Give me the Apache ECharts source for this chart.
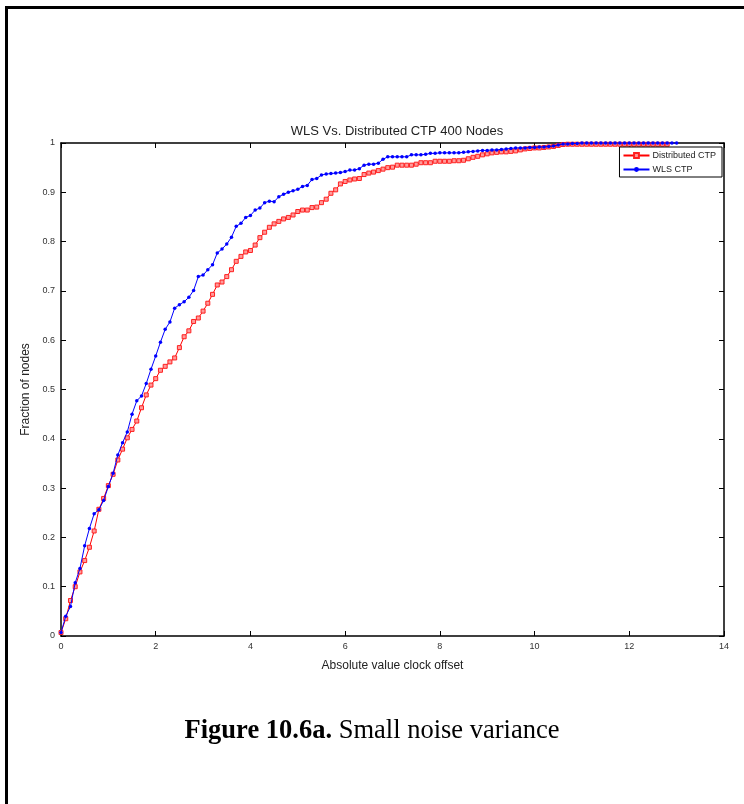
<!DOCTYPE html>
<html>
<head>
<meta charset="utf-8">
<script src="https://cdn.jsdelivr.net/npm/echarts@6/dist/echarts.min.js"></script>
<style>
html,body{margin:0;padding:0;background:#fff;}
#chart{width:744px;height:804px;}
</style>
</head>
<body>
<div id="chart"></div>
<script>
// Clock offset bins (shared x values)
const offsets = [
0.0,0.1,0.2,0.3,0.4,0.5,0.6,0.7,0.8,0.9,
1.0,1.1,1.2,1.3,1.4,1.5,1.6,1.7,1.8,1.9,
2.0,2.1,2.2,2.3,2.4,2.5,2.6,2.7,2.8,2.9,
3.0,3.1,3.2,3.3,3.4,3.5,3.6,3.7,3.8,3.9,
4.0,4.1,4.2,4.3,4.4,4.5,4.6,4.7,4.8,4.9,
5.0,5.1,5.2,5.3,5.4,5.5,5.6,5.7,5.8,5.9,
6.0,6.1,6.2,6.3,6.4,6.5,6.6,6.7,6.8,6.9,
7.0,7.1,7.2,7.3,7.4,7.5,7.6,7.7,7.8,7.9,
8.0,8.1,8.2,8.3,8.4,8.5,8.6,8.7,8.8,8.9,
9.0,9.1,9.2,9.3,9.4,9.5,9.6,9.7,9.8,9.9,
10.0,10.1,10.2,10.3,10.4,10.5,10.6,10.7,10.8,10.9,
11.0,11.1,11.2,11.3,11.4,11.5,11.6,11.7,11.8,11.9,
12.0,12.1,12.2,12.3,12.4,12.5,12.6,12.7,12.8,12.9,
13.0
];

// Distributed CTP (red), x = 0 .. 12.8
const distributedCTP = [
0.007,0.035,0.072,0.100,0.130,0.153,0.180,0.213,0.257,0.279,
0.305,0.328,0.357,0.379,0.402,0.419,0.436,0.463,0.489,0.509,
0.522,0.539,0.547,0.556,0.564,0.585,0.607,0.619,0.638,0.645,
0.659,0.675,0.693,0.712,0.718,0.729,0.743,0.760,0.770,0.779,
0.782,0.793,0.808,0.819,0.829,0.836,0.841,0.846,0.849,0.854,
0.861,0.864,0.864,0.869,0.870,0.879,0.886,0.898,0.905,0.917,
0.922,0.925,0.927,0.928,0.936,0.939,0.941,0.944,0.947,0.950,
0.951,0.955,0.955,0.955,0.955,0.957,0.960,0.960,0.960,0.963,
0.963,0.963,0.963,0.964,0.964,0.965,0.968,0.971,0.973,0.976,
0.978,0.980,0.981,0.982,0.982,0.983,0.984,0.986,0.988,0.989,
0.990,0.990,0.991,0.992,0.993,0.995,0.997,0.9975,0.9975,0.9975,
0.9975,0.9975,0.9975,0.9975,0.9975,0.9975,0.9975,0.9975,0.9975,0.9975,
0.9975,0.9975,0.9975,0.9975,0.9975,0.9975,0.9975,0.9975,0.9975
];

// WLS CTP (blue), x = 0 .. 13.0
const wlsCTP = [
0.007,0.040,0.060,0.108,0.137,0.183,0.218,0.248,0.256,0.275,
0.303,0.330,0.367,0.392,0.414,0.450,0.477,0.487,0.512,0.541,
0.568,0.596,0.622,0.637,0.665,0.672,0.678,0.687,0.701,0.729,
0.732,0.743,0.753,0.777,0.785,0.795,0.809,0.831,0.837,0.849,
0.853,0.864,0.868,0.879,0.882,0.881,0.891,0.896,0.900,0.903,
0.906,0.912,0.914,0.926,0.928,0.935,0.937,0.938,0.939,0.940,
0.942,0.945,0.945,0.948,0.955,0.957,0.957,0.959,0.967,0.972,
0.972,0.972,0.972,0.972,0.976,0.976,0.976,0.977,0.979,0.979,
0.980,0.980,0.980,0.980,0.980,0.981,0.982,0.983,0.984,0.985,
0.985,0.986,0.986,0.987,0.988,0.989,0.990,0.990,0.990,0.991,
0.991,0.992,0.992,0.993,0.994,0.996,0.998,0.998,0.999,0.999,
1.000,1.000,1.000,1.000,1.000,1.000,1.000,1.000,1.000,1.000,
1.000,1.000,1.000,1.000,1.000,1.000,1.000,1.000,1.000,1.000,
1.000
];

const seriesNames = ['Distributed CTP', 'WLS CTP'];
const chartTitle = 'WLS Vs. Distributed CTP 400 Nodes';
const xName = 'Absolute value clock offset';
const yName = 'Fraction of nodes';

function pairs(ys) { return ys.map((y, i) => [offsets[i], y]); }

const chart = echarts.init(document.getElementById('chart'), null, {renderer: 'canvas'});
const sans = 'Liberation Sans, Arial, Helvetica, sans-serif';
const serif = 'Liberation Serif, Times New Roman, serif';
const axisLineStyle = {show: true, onZero: false, lineStyle: {color: '#000', width: 1.5}};
const tickIn = {show: true, inside: true, length: 5, lineStyle: {color: '#000', width: 1}};

chart.setOption({
  backgroundColor: '#fff',
  animation: false,
  title: {
    text: chartTitle,
    left: 392, top: 120, textAlign: 'center',
    textStyle: {fontFamily: sans, fontSize: 13, fontWeight: 'normal', color: '#222'}
  },
  grid: {left: 61, right: 20, top: 143, bottom: 168, containLabel: false},
  legend: {
    data: seriesNames,
    orient: 'vertical',
    right: 22, top: 147,
    backgroundColor: '#fff',
    borderColor: '#000', borderWidth: 1, borderRadius: 0,
    padding: [4, 6, 3, 3],
    itemGap: 5, itemWidth: 26, itemHeight: 6,
    textStyle: {fontFamily: sans, fontSize: 9, color: '#222', padding: [0, 0, 0, -2]}
  },
  xAxis: [{
    type: 'value', min: 0, max: 14, interval: 2,
    name: xName, nameLocation: 'middle', nameGap: 24,
    nameTextStyle: {fontFamily: sans, fontSize: 12, color: '#222'},
    axisLine: axisLineStyle, axisTick: tickIn,
    axisLabel: {fontFamily: sans, fontSize: 9, color: '#333', margin: 6},
    splitLine: {show: false}
  }, {
    type: 'value', min: 0, max: 14, interval: 2, position: 'top',
    axisLine: axisLineStyle, axisTick: tickIn,
    axisLabel: {show: false}, splitLine: {show: false}
  }],
  yAxis: [{
    type: 'value', min: 0, max: 1, interval: 0.1,
    name: yName, nameLocation: 'middle', nameGap: 28,
    nameTextStyle: {fontFamily: sans, fontSize: 12, color: '#222'},
    axisLine: axisLineStyle, axisTick: tickIn,
    axisLabel: {fontFamily: sans, fontSize: 9, color: '#333', margin: 6,
      formatter: v => (Math.round(v * 10) / 10).toString()},
    splitLine: {show: false}
  }, {
    type: 'value', min: 0, max: 1, interval: 0.1, position: 'right',
    axisLine: axisLineStyle, axisTick: tickIn,
    axisLabel: {show: false}, splitLine: {show: false}
  }],
  series: [{
    name: seriesNames[0],
    type: 'line',
    data: pairs(distributedCTP),
    symbol: 'rect', symbolSize: 4,
    showAllSymbol: true,
    lineStyle: {color: '#ff0000', width: 1},
    itemStyle: {color: '#ff9a9a', borderColor: '#ff2020', borderWidth: 1},
    z: 2
  }, {
    name: seriesNames[1],
    type: 'line',
    data: pairs(wlsCTP),
    symbol: 'circle', symbolSize: 3.5,
    showAllSymbol: true,
    lineStyle: {color: '#0000ff', width: 1},
    itemStyle: {color: '#0000ff', borderColor: '#0000ff', borderWidth: 0},
    z: 3
  }],
  graphic: [{
    type: 'rect', shape: {x: 5, y: 6, width: 744, height: 3}, style: {fill: '#000'}
  }, {
    type: 'rect', shape: {x: 5, y: 6, width: 3, height: 800}, style: {fill: '#000'}
  }, {
    type: 'text',
    left: 'center', top: 718,
    style: {
      text: '{b|Figure 10.6a.}  {n|Small noise variance}',
      rich: {
        b: {fontFamily: serif, fontSize: 26.5, fontWeight: 'bold', fill: '#000'},
        n: {fontFamily: serif, fontSize: 26.5, fill: '#000'}
      }
    }
  }]
});
</script>
</body>
</html>
